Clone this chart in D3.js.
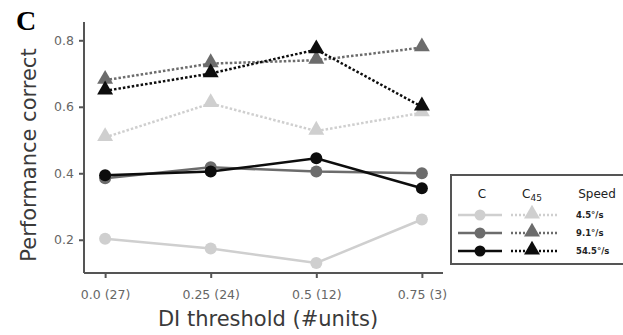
<!DOCTYPE html>
<html>
<head>
<meta charset="utf-8">
<script src="https://cdn.jsdelivr.net/npm/d3@7"></script>
<style>
  body { margin: 0; background: #fff; }
  svg { display: block; }
</style>
</head>
<body>
<svg width="623" height="335"></svg>
<script>
const svg = d3.select('svg');

const thresholds = ['0.0 (27)', '0.25 (24)', '0.5 (12)', '0.75 (3)'];
const speeds = ['4.5°/s', '9.1°/s', '54.5°/s'];
const colors = ['#cfcfcf', '#6c6c6c', '#0d0d0d'];

// C (circles, solid) per speed
const cSlow = [0.203, 0.174, 0.130, 0.261];
const cMid = [0.385, 0.418, 0.405, 0.400];
const cFast = [0.394, 0.405, 0.445, 0.355];
// C45 (triangles, dotted) per speed
const c45Slow = [0.508, 0.610, 0.527, 0.582];
const c45Mid = [0.680, 0.730, 0.740, 0.778];
const c45Fast = [0.648, 0.700, 0.772, 0.600];

const yTicks = [0.2, 0.4, 0.6, 0.8];

const x = d3.scalePoint().domain(thresholds).range([84, 443]).padding(0.2);
const y = d3.scaleLinear().domain([0.1, 0.855]).range([273, 22]);

const g = svg.append('g');

// spines
g.append('line')
    .attr('x1', 84).attr('x2', 84)
    .attr('y1', y.range()[1]).attr('y2', y.range()[0])
    .attr('stroke', '#555').attr('stroke-width', 2);
g.append('line')
    .attr('x1', 84).attr('x2', 443)
    .attr('y1', 273).attr('y2', 273)
    .attr('stroke', '#555').attr('stroke-width', 2);

// y axis ticks
const yAxis = g.append('g')
    .attr('transform', 'translate(84,0)')
    .call(d3.axisLeft(y).tickValues(yTicks).tickFormat(d3.format('.1f')).tickSize(5).tickPadding(5));
yAxis.select('.domain').remove();
yAxis.selectAll('line').attr('stroke', '#555').attr('stroke-width', 2);
yAxis.selectAll('text')
    .attr('fill', '#666')
    .style('font-family', 'DejaVu Sans')
    .style('font-size', '12.5px');

// x axis ticks
const xAxis = g.append('g')
    .attr('transform', 'translate(0,273)')
    .call(d3.axisBottom(x).tickSize(5).tickPadding(12));
xAxis.select('.domain').remove();
xAxis.selectAll('line').attr('stroke', '#555').attr('stroke-width', 2);
xAxis.selectAll('text')
    .attr('fill', '#666')
    .style('font-family', 'DejaVu Sans')
    .style('font-size', '12.5px');

// axis titles
svg.append('text')
    .attr('transform', 'translate(36,155) rotate(-90)')
    .attr('text-anchor', 'middle')
    .attr('fill', '#3a3a3a')
    .style('font-family', 'DejaVu Sans')
    .style('font-size', '21px')
    .text('Performance correct');

svg.append('text')
    .attr('x', 268).attr('y', 326)
    .attr('text-anchor', 'middle')
    .attr('fill', '#3a3a3a')
    .style('font-family', 'DejaVu Sans')
    .style('font-size', '21px')
    .text('DI threshold (#units)');

// panel letter
svg.append('text')
    .attr('x', 16).attr('y', 30)
    .attr('fill', '#000')
    .style('font-family', 'Liberation Serif')
    .style('font-weight', 'bold')
    .style('font-size', '28px')
    .text('C');

const line = d3.line()
    .x((d, i) => x(thresholds[i]))
    .y(d => y(d));

const tri = d3.symbol().type(d3.symbolTriangle).size(110);

// C45 dotted lines with triangles
[c45Slow, c45Mid, c45Fast].forEach((vals, k) => {
  g.append('path')
      .attr('d', line(vals))
      .attr('fill', 'none')
      .attr('stroke', colors[k])
      .attr('stroke-width', 2.5)
      .attr('stroke-dasharray', '2.5,2');
  g.selectAll(null)
      .data(vals)
      .enter().append('path')
        .attr('d', tri)
        .attr('transform', (d, i) => `translate(${x(thresholds[i])},${y(d) - 1})`)
        .attr('fill', colors[k]);
});

// C solid lines with circles
[cSlow, cMid, cFast].forEach((vals, k) => {
  g.append('path')
      .attr('d', line(vals))
      .attr('fill', 'none')
      .attr('stroke', colors[k])
      .attr('stroke-width', 2.5);
  g.selectAll(null)
      .data(vals)
      .enter().append('circle')
        .attr('cx', (d, i) => x(thresholds[i]))
        .attr('cy', d => y(d))
        .attr('r', 6)
        .attr('fill', colors[k]);
});

// legend
const leg = svg.append('g');
leg.append('rect')
    .attr('x', 451).attr('y', 175)
    .attr('width', 200).attr('height', 89)
    .attr('fill', '#fff')
    .attr('stroke', '#555')
    .attr('stroke-width', 2);

const hdr = [['C', 482], ['C', 532], ['Speed', 597]];
hdr.forEach(([t, hx], i) => {
  const tx = leg.append('text')
      .attr('x', hx).attr('y', 198)
      .attr('text-anchor', 'middle')
      .attr('fill', '#222')
      .style('font-family', 'DejaVu Sans')
      .style('font-size', '12px')
      .text(t);
  if (i === 1) {
    tx.append('tspan')
        .attr('dy', 3)
        .style('font-size', '9px')
        .text('45');
  }
});

const rowY = [215, 233, 251];
speeds.forEach((s, k) => {
  const ry = rowY[k];
  leg.append('line')
      .attr('x1', 458).attr('x2', 502)
      .attr('y1', ry).attr('y2', ry)
      .attr('stroke', colors[k]).attr('stroke-width', 2.5);
  leg.append('circle')
      .attr('cx', 480).attr('cy', ry).attr('r', 5.5)
      .attr('fill', colors[k]);
  leg.append('line')
      .attr('x1', 511).attr('x2', 558)
      .attr('y1', ry).attr('y2', ry)
      .attr('stroke', colors[k]).attr('stroke-width', 2.5)
      .attr('stroke-dasharray', '2,2');
  leg.append('path')
      .attr('d', tri)
      .attr('transform', `translate(532,${ry - 1})`)
      .attr('fill', colors[k]);
  leg.append('text')
      .attr('x', 576).attr('y', ry + 3)
      .attr('fill', '#222')
      .style('font-family', 'DejaVu Sans')
      .style('font-weight', 'bold')
      .style('font-size', '8.5px')
      .text(s);
});
</script>
</body>
</html>
